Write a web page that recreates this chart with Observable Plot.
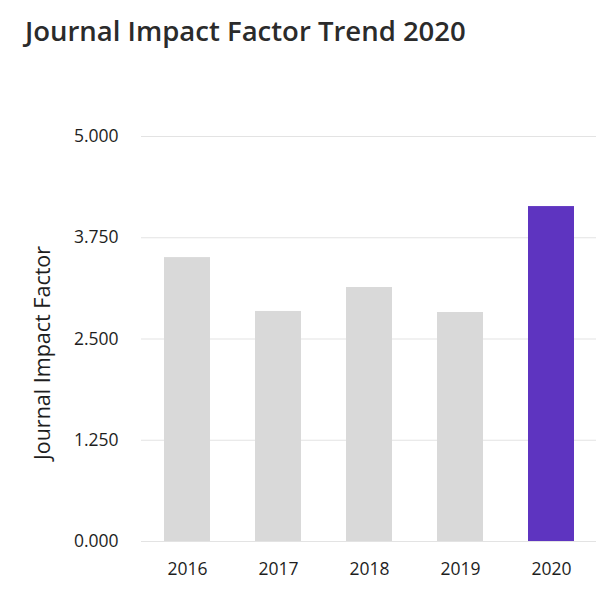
<!DOCTYPE html>
<html>
<head>
<meta charset="utf-8">
<script src="https://cdn.jsdelivr.net/npm/d3@7"></script>
<script src="https://cdn.jsdelivr.net/npm/@observablehq/plot@0.6"></script>
<style>
  html, body { margin: 0; padding: 0; background: #fff; }
  #title { height: 70px; box-sizing: border-box; padding: 12px 0 0 25px; font-family: "Open Sans", sans-serif; font-weight: 600; font-size: 27.5px; color: #2b2b2b; }
  #chart svg { display: block; }
</style>
</head>
<body>
<div id="title">Journal Impact Factor Trend 2020</div>
<div id="chart"></div>
<script>
const years = ["2016", "2017", "2018", "2019", "2020"];
const impactFactors = [3.505, 2.840, 3.136, 2.827, 4.135];
const highlightYear = "2020";
const yTicks = [0, 1.25, 2.5, 3.75, 5];
const yLabel = "Journal Impact Factor";

const data = years.map((y, i) => ({year: y, value: impactFactors[i]}));

const chart = Plot.plot({
  width: 608,
  height: 529,
  marginTop: 66,
  marginBottom: 58,
  marginLeft: 141,
  marginRight: 12,
  style: {fontFamily: "'Open Sans', sans-serif", fontSize: "17px", color: "#1e1e1e", background: "#fff"},
  x: {domain: years, paddingInner: 0.5, paddingOuter: 0.25, label: null},
  y: {domain: [0, 5], ticks: yTicks, label: null},
  marks: [
    Plot.gridY(yTicks, {stroke: "#e3e3e3", strokeOpacity: 1}),
    Plot.barY(data, {x: "year", y: "value", fill: d => d.year === highlightYear ? "#5e34c0" : "#d9d9d9"}),
    Plot.axisY({ticks: yTicks, tickFormat: d3.format(".3f"), tickSize: 0, tickPadding: 23, fontSize: 17.5, label: null}),
    Plot.axisX({tickSize: 0, tickPadding: 21, fontSize: 17.5, label: null}),
    Plot.text([yLabel], {frameAnchor: "middle", rotate: -90, dx: -326, dy: 14, fontSize: 21.5, fill: "#1e1e1e"})
  ]
});
document.getElementById("chart").appendChild(chart);
</script>
</body>
</html>
